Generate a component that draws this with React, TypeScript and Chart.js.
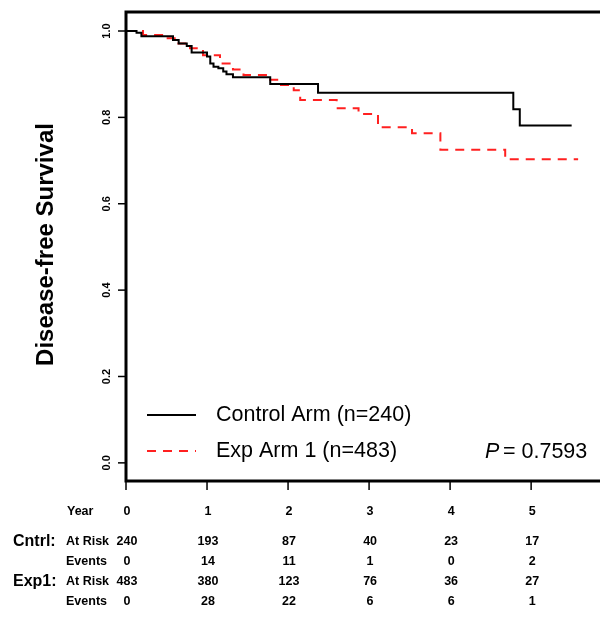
import { useEffect, useRef } from "react";
import { Chart, registerables } from "chart.js";

Chart.register(...registerables);

// Kaplan-Meier step points (year, survival)
const controlYears = [0, 0.13, 0.19, 0.58, 0.65, 0.75, 0.81, 1.0, 1.04, 1.08, 1.14, 1.2, 1.24, 1.32, 1.78, 2.37, 4.78, 4.86, 5.5];
const controlSurv = [1.0, 0.996, 0.988, 0.979, 0.971, 0.965, 0.95, 0.941, 0.925, 0.917, 0.914, 0.906, 0.9, 0.893, 0.877, 0.857, 0.819, 0.781, 0.781];
const expYears = [0, 0.21, 0.5, 0.63, 0.79, 0.95, 1.16, 1.32, 1.45, 1.74, 1.9, 2.07, 2.15, 2.6, 2.87, 3.11, 3.53, 3.88, 4.68, 5.58];
const expSurv = [1.0, 0.991, 0.983, 0.971, 0.96, 0.944, 0.925, 0.911, 0.898, 0.887, 0.875, 0.863, 0.84, 0.821, 0.808, 0.777, 0.763, 0.725, 0.703, 0.703];

const yearTicks = [0, 1, 2, 3, 4, 5];
const survTicks = [0, 0.2, 0.4, 0.6, 0.8, 1.0];
const cntrlAtRisk = [240, 193, 87, 40, 23, 17];
const cntrlEvents = [0, 14, 11, 1, 0, 2];
const expAtRisk = [483, 380, 123, 76, 36, 27];
const expEvents = [0, 28, 22, 6, 6, 1];

const FONT = "'Liberation Sans', Arial, sans-serif";

const decorations = {
  id: "decorations",
  afterDraw(chart: Chart) {
    const { ctx, chartArea: a } = chart;
    const x = chart.scales.x;
    const y = chart.scales.y;
    ctx.save();
    ctx.strokeStyle = "#000";
    ctx.fillStyle = "#000";
    // box
    ctx.lineWidth = 3;
    ctx.strokeRect(a.left, a.top, a.right - a.left + 10, a.bottom - a.top);
    // y ticks
    ctx.lineWidth = 1.5;
    ctx.font = `bold 11px ${FONT}`;
    ctx.textAlign = "center";
    ctx.textBaseline = "middle";
    survTicks.forEach((v) => {
      const py = y.getPixelForValue(v);
      ctx.beginPath();
      ctx.moveTo(a.left - 8, py);
      ctx.lineTo(a.left, py);
      ctx.stroke();
      ctx.save();
      ctx.translate(a.left - 19, py);
      ctx.rotate(-Math.PI / 2);
      ctx.fillText(v.toFixed(1), 0, 0);
      ctx.restore();
    });
    // y title
    ctx.save();
    ctx.translate(46, (a.top + a.bottom) / 2 - 2);
    ctx.rotate(-Math.PI / 2);
    ctx.font = `bold 24px ${FONT}`;
    ctx.fillText("Disease-free Survival", 0, 0);
    ctx.restore();
    // x ticks
    yearTicks.forEach((v) => {
      const px = x.getPixelForValue(v);
      ctx.beginPath();
      ctx.moveTo(px, a.bottom);
      ctx.lineTo(px, a.bottom + 9);
      ctx.stroke();
    });
    // legend
    ctx.lineWidth = 2;
    ctx.strokeStyle = "#000";
    ctx.beginPath();
    ctx.moveTo(147, 415);
    ctx.lineTo(196, 415);
    ctx.stroke();
    ctx.strokeStyle = "#ff2020";
    ctx.setLineDash([9, 7]);
    ctx.beginPath();
    ctx.moveTo(147, 451);
    ctx.lineTo(196, 451);
    ctx.stroke();
    ctx.setLineDash([]);
    ctx.textAlign = "left";
    ctx.font = `21.5px ${FONT}`;
    ctx.fillText("Control Arm (n=240)", 216, 415);
    ctx.fillText("Exp Arm 1 (n=483)", 216, 451);
    ctx.font = `italic 21.5px ${FONT}`;
    ctx.fillText("P", 485, 452);
    ctx.font = `21.5px ${FONT}`;
    ctx.fillText("= 0.7593", 503, 452);
    // risk table
    ctx.textAlign = "center";
    ctx.font = `bold 12.5px ${FONT}`;
    const rows: [number, number[] | null][] = [
      [512, null],
      [542, cntrlAtRisk],
      [562, cntrlEvents],
      [582, expAtRisk],
      [602, expEvents],
    ];
    rows.forEach(([py, vals]) => {
      yearTicks.forEach((t, i) => {
        ctx.fillText(String(vals ? vals[i] : t), x.getPixelForValue(t) + 1, py);
      });
    });
    ctx.textAlign = "left";
    ctx.fillText("Year", 67, 512);
    ctx.fillText("At Risk", 66, 542);
    ctx.fillText("Events", 66, 562);
    ctx.fillText("At Risk", 66, 582);
    ctx.fillText("Events", 66, 602);
    ctx.font = `bold 16px ${FONT}`;
    ctx.fillText("Cntrl:", 13, 542);
    ctx.fillText("Exp1:", 13, 582);
    ctx.restore();
  },
};

export default function App() {
  const canvasRef = useRef<HTMLCanvasElement>(null);

  useEffect(() => {
    if (!canvasRef.current) return;
    const chart = new Chart(canvasRef.current, {
      type: "line",
      data: {
        datasets: [
          {
            label: "Control Arm (n=240)",
            data: controlYears.map((t, i) => ({ x: t, y: controlSurv[i] })),
            borderColor: "#000",
            borderWidth: 2,
            stepped: "before",
            pointRadius: 0,
          },
          {
            label: "Exp Arm 1 (n=483)",
            data: expYears.map((t, i) => ({ x: t, y: expSurv[i] })),
            borderColor: "#ff2020",
            borderWidth: 2,
            borderDash: [9, 7],
            stepped: "before",
            pointRadius: 0,
          },
        ],
      },
      options: {
        responsive: false,
        animation: false,
        layout: { padding: { left: 126, top: 12, right: 0, bottom: 141 } },
        plugins: { legend: { display: false }, tooltip: { enabled: false } },
        scales: {
          x: { type: "linear", min: 0, max: 5.85, display: false },
          y: { min: -0.042, max: 1.044, display: false },
        },
      },
      plugins: [decorations],
    });
    return () => chart.destroy();
  }, []);

  return (
    <div style={{ position: "fixed", left: 0, top: 0, width: 600, height: 622, background: "#fff" }}>
      <canvas ref={canvasRef} width={600} height={622} />
    </div>
  );
}
